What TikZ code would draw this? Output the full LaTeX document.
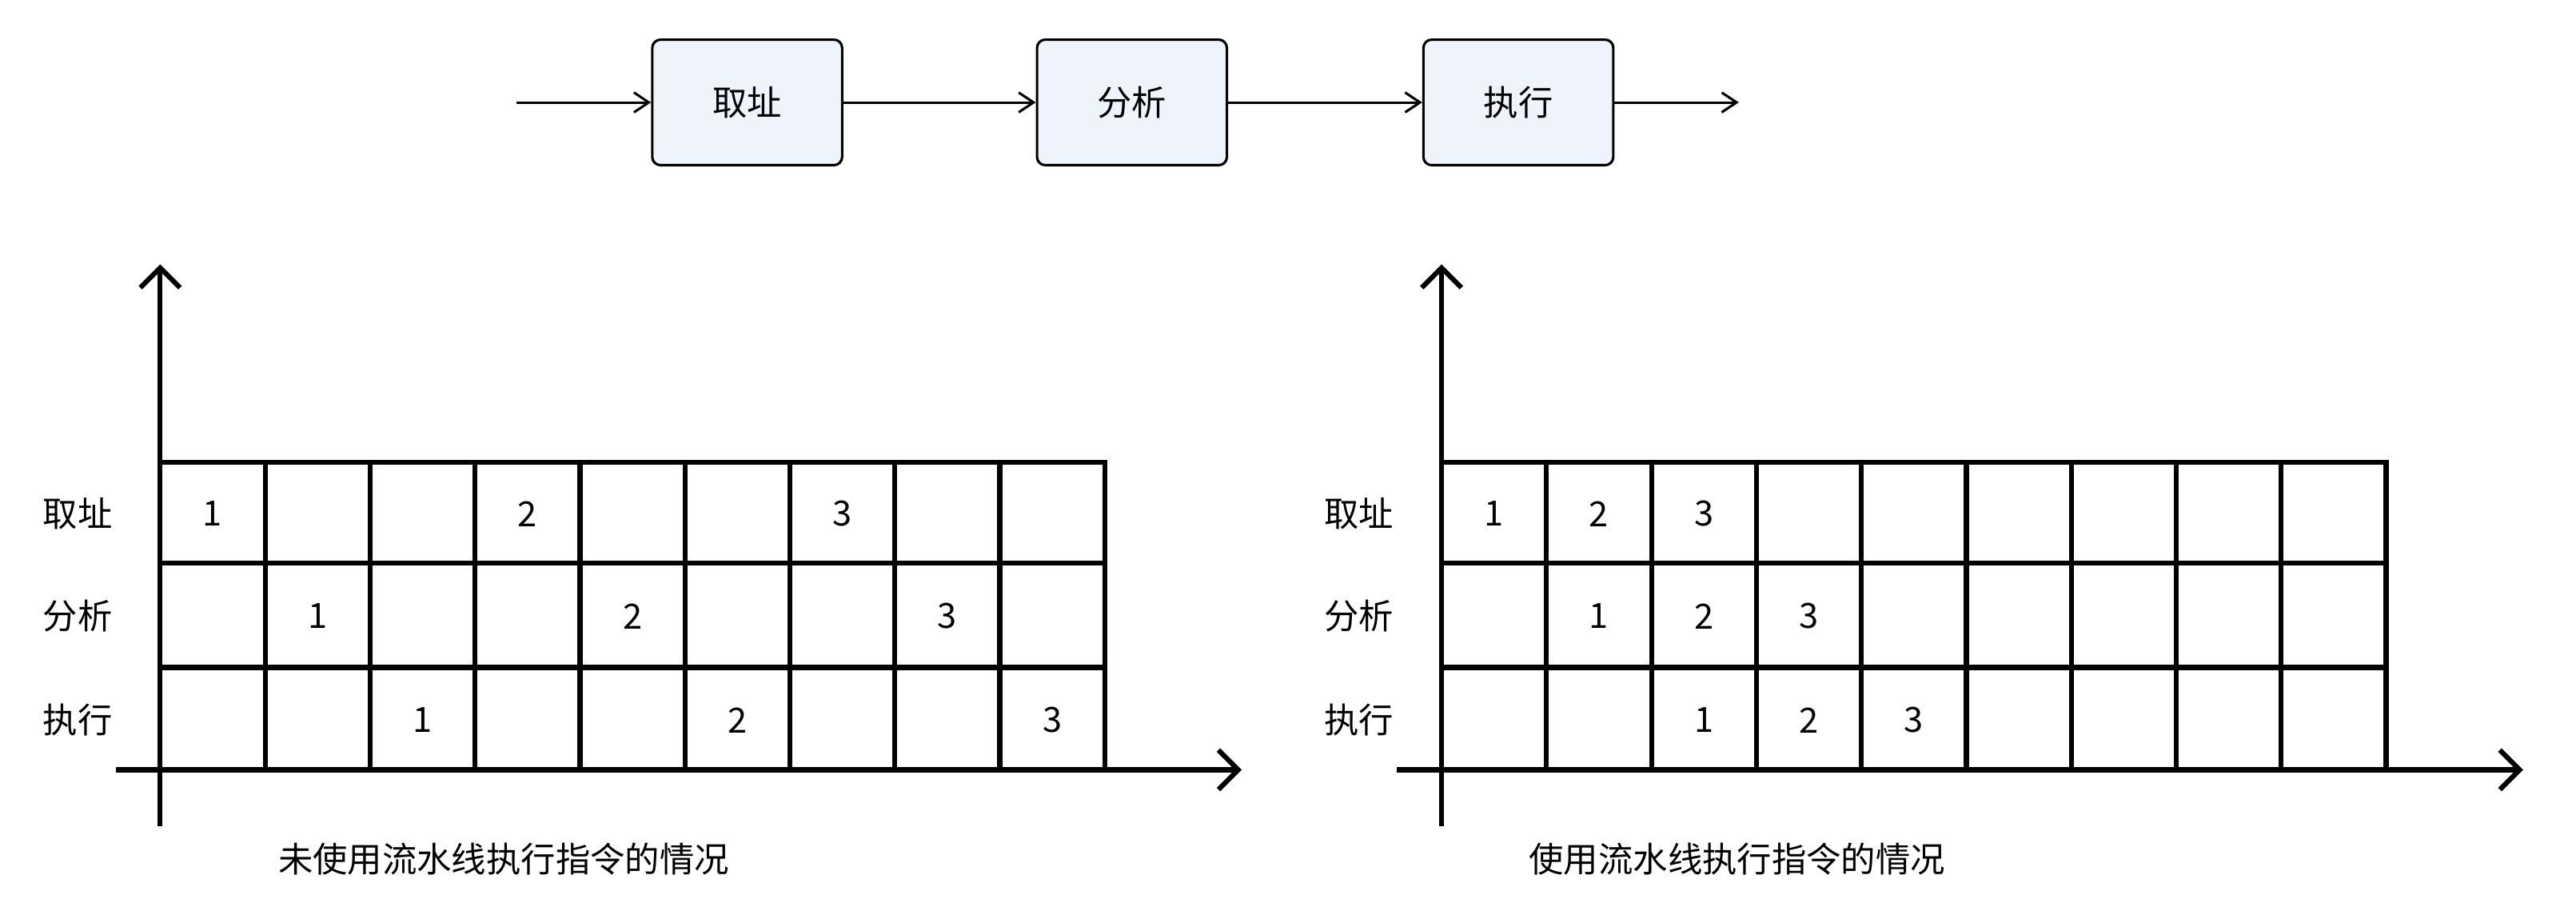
\documentclass[tikz,border=0pt]{standalone}
\usepackage{fontspec}
\setmainfont{Noto Sans CJK SC}
\usetikzlibrary{arrows.meta}
\definecolor{boxfill}{HTML}{EEF3FC}
\begin{document}
\begin{tikzpicture}[x=1pt,y=-1pt,font=\fontsize{21}{24}\selectfont,
  stage/.style={draw,line width=1.5pt,rounded corners=5pt,fill=boxfill,minimum width=115pt,minimum height=76pt},
  flow/.style={line width=1.5pt,-{Straight Barb[length=9pt,width=12pt]}},
  axis/.style={line width=3pt,-{Straight Barb[length=12pt,width=24pt,line width=3pt]}},
  grid/.style={line width=3pt}]
\useasboundingbox (0,0) rectangle (1560,556);
\node[stage] (s1) at (452.5,62) {取址};
\node[stage] (s2) at (685.5,62) {分析};
\node[stage] (s3) at (919.5,62) {执行};
\coordinate (in) at (313,62);
\coordinate (out) at (1053,62);
\draw[flow] (in) -- (s1.west);
\draw[flow] (s1.east) -- (s2.west);
\draw[flow] (s2.east) -- (s3.west);
\draw[flow] (s3.east) -- (out);
% charts
\foreach \ox/\cap/\tag in {97/{未使用流水线执行指令的情况}/L, 873/{使用流水线执行指令的情况}/R}{
  \coordinate (yb\tag) at (\ox,500);
  \coordinate (yt\tag) at (\ox,160);
  \coordinate (xl\tag) at (\ox-27,466);
  \coordinate (xr\tag) at (\ox+655,466);
  \draw[grid] (\ox,280) rectangle (\ox+572,466);
  \foreach \r in {341,404} \draw[grid] (\ox,\r) -- (\ox+572,\r);
  \foreach \c in {1,...,8} \draw[grid] (\ox+\c*63.56,280) -- (\ox+\c*63.56,466);
  \draw[axis] (yb\tag) -- (yt\tag);
  \draw[axis] (xl\tag) -- (xr\tag);
  \node (la\tag) at (\ox-50,311) {取址};
  \node (lb\tag) at (\ox-50,373) {分析};
  \node (lc\tag) at (\ox-50,436) {执行};
}
\node (capL) at (305,520) {未使用流水线执行指令的情况};
\node (capR) at (1052,520) {使用流水线执行指令的情况};
% numbers left
\foreach \c/\r/\t in {0/311/1,3/311/2,6/311/3,1/373/1,4/373/2,7/373/3,2/436/1,5/436/2,8/436/3}
  \node at (97+\c*63.56+31.78,\r) {\t};
\foreach \c/\r/\t in {0/311/1,1/311/2,2/311/3,1/373/1,2/373/2,3/373/3,2/436/1,3/436/2,4/436/3}
  \node at (873+\c*63.56+31.78,\r) {\t};
\end{tikzpicture}
\end{document}
